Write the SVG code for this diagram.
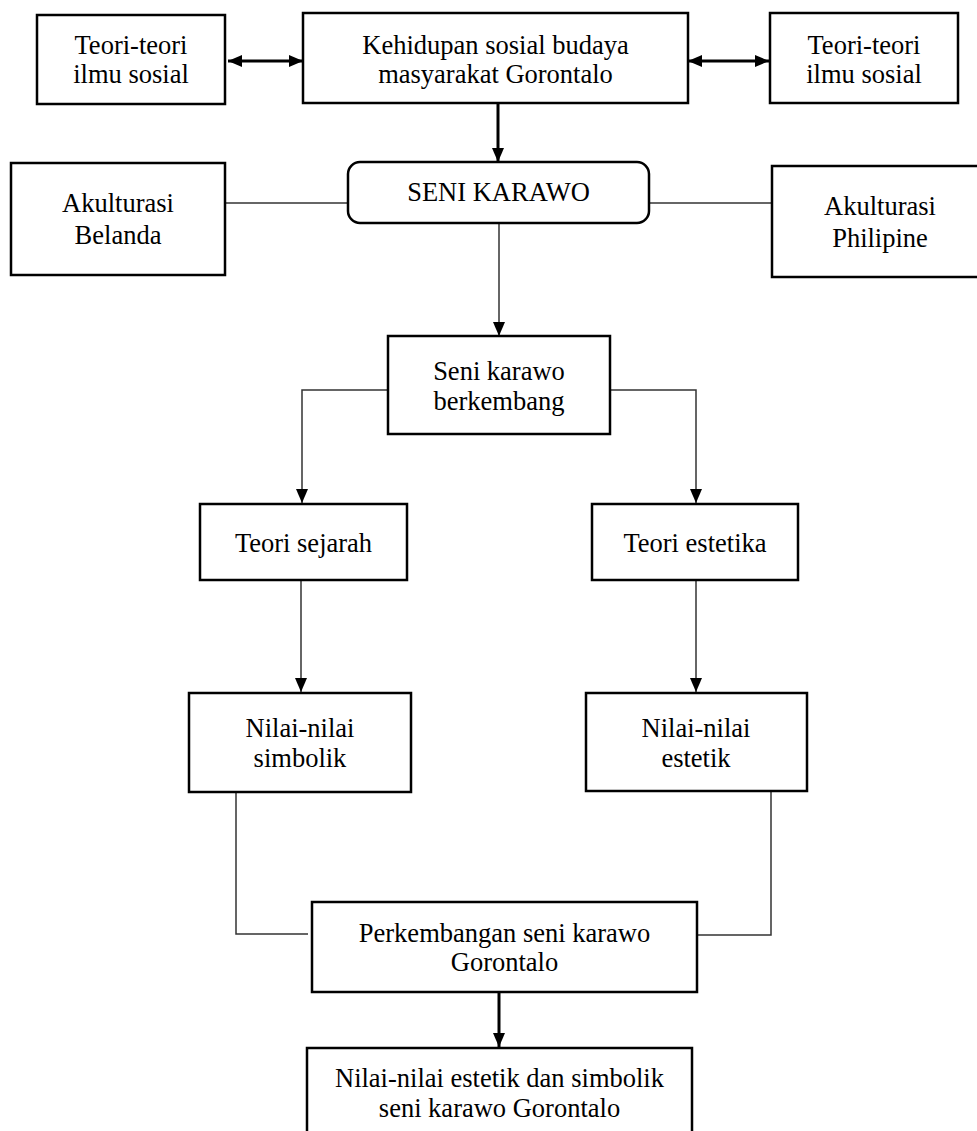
<svg xmlns="http://www.w3.org/2000/svg" width="977" height="1131" viewBox="0 0 977 1131">
<style>
.box{fill:#fff;stroke:#000;stroke-width:2.5}
.t{font-family:'Liberation Serif','Times New Roman','DejaVu Serif',serif;font-size:26.5px;fill:#000;text-anchor:middle}
.thin{fill:none;stroke:#333;stroke-width:1.5}
.thick{fill:none;stroke:#000;stroke-width:3}
</style>
<defs>
<marker id="ah" markerUnits="userSpaceOnUse" viewBox="0 0 14 12" markerWidth="14" markerHeight="12" refX="14" refY="6" orient="auto-start-reverse">
<path d="M0,0 L14,6 L0,12 Z" fill="#000"/>
</marker>
</defs>
<rect width="977" height="1131" fill="#fff"/>
<g id="connectors">
<line class="thick" x1="228" y1="61" x2="303" y2="61" marker-start="url(#ah)" marker-end="url(#ah)"/>
<line class="thick" x1="688" y1="61" x2="769" y2="61" marker-start="url(#ah)" marker-end="url(#ah)"/>
<line class="thick" x1="498" y1="103" x2="498" y2="162" marker-end="url(#ah)"/>
<line class="thin" x1="225" y1="203" x2="348" y2="203"/>
<line class="thin" x1="649" y1="203" x2="772" y2="203"/>
<line class="thin" x1="499" y1="223" x2="499" y2="336" marker-end="url(#ah)"/>
<polyline class="thin" points="388,390 302,390 302,503" marker-end="url(#ah)"/>
<polyline class="thin" points="610,390 696,390 696,503" marker-end="url(#ah)"/>
<line class="thin" x1="301" y1="580" x2="301" y2="692" marker-end="url(#ah)"/>
<line class="thin" x1="696" y1="580" x2="696" y2="692" marker-end="url(#ah)"/>
<polyline class="thin" points="236,792 236,934 308,934"/>
<polyline class="thin" points="771,791 771,935 698,935"/>
<line class="thick" x1="499" y1="992" x2="499" y2="1047" marker-end="url(#ah)"/>
</g>
<g id="n-teori-left">
<rect class="box" x="37" y="15" width="188" height="89"/>
<text class="t" x="131" y="54">Teori-teori</text>
<text class="t" x="131" y="83">ilmu sosial</text>
</g>
<g id="n-kehidupan">
<rect class="box" x="303" y="13" width="385" height="90"/>
<text class="t" x="495.5" y="54">Kehidupan sosial budaya</text>
<text class="t" x="495.5" y="83">masyarakat Gorontalo</text>
</g>
<g id="n-teori-right">
<rect class="box" x="770" y="13" width="188" height="90"/>
<text class="t" x="864" y="54">Teori-teori</text>
<text class="t" x="864" y="83">ilmu sosial</text>
</g>
<g id="n-belanda">
<rect class="box" x="11" y="163" width="214" height="112"/>
<text class="t" x="118" y="212">Akulturasi</text>
<text class="t" x="118" y="244">Belanda</text>
</g>
<g id="n-seni">
<rect class="box" x="348" y="162" width="301" height="61" rx="12" ry="12"/>
<text class="t" x="498.5" y="201">SENI KARAWO</text>
</g>
<g id="n-philipine">
<rect class="box" x="772" y="166" width="216" height="111"/>
<text class="t" x="880" y="215">Akulturasi</text>
<text class="t" x="880" y="247">Philipine</text>
</g>
<g id="n-berkembang">
<rect class="box" x="388" y="336" width="222" height="98"/>
<text class="t" x="499" y="380">Seni karawo</text>
<text class="t" x="499" y="410">berkembang</text>
</g>
<g id="n-sejarah">
<rect class="box" x="200" y="504" width="207" height="76"/>
<text class="t" x="303.5" y="552">Teori sejarah</text>
</g>
<g id="n-estetika">
<rect class="box" x="592" y="504" width="206" height="76"/>
<text class="t" x="695" y="552">Teori estetika</text>
</g>
<g id="n-simbolik">
<rect class="box" x="189" y="693" width="222" height="99"/>
<text class="t" x="300" y="737">Nilai-nilai</text>
<text class="t" x="300" y="767">simbolik</text>
</g>
<g id="n-estetik">
<rect class="box" x="586" y="693" width="221" height="98"/>
<text class="t" x="696" y="737">Nilai-nilai</text>
<text class="t" x="696" y="767">estetik</text>
</g>
<g id="n-perkembangan">
<rect class="box" x="312" y="902" width="385" height="90"/>
<text class="t" x="504.5" y="942">Perkembangan seni karawo</text>
<text class="t" x="504.5" y="971">Gorontalo</text>
</g>
<g id="n-final">
<rect class="box" x="307" y="1048" width="385" height="100"/>
<text class="t" x="499.5" y="1087">Nilai-nilai estetik dan simbolik</text>
<text class="t" x="499.5" y="1117">seni karawo Gorontalo</text>
</g>
</svg>
